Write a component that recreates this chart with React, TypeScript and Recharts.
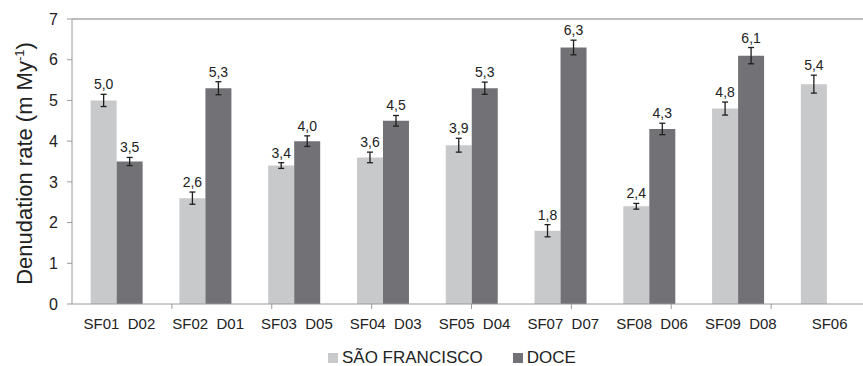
import React from "react";
import {
  BarChart,
  Bar,
  XAxis,
  YAxis,
  ErrorBar,
  LabelList,
  ReferenceLine,
} from "recharts";

// Sample pairs: São Francisco site + Doce site sharing one category slot
const groups = [
  "SF01\u00a0\u00a0D02",
  "SF02\u00a0\u00a0D01",
  "SF03\u00a0\u00a0D05",
  "SF04\u00a0\u00a0D03",
  "SF05\u00a0\u00a0D04",
  "SF07\u00a0\u00a0D07",
  "SF08\u00a0\u00a0D06",
  "SF09\u00a0\u00a0D08",
  "SF06",
];

// Denudation rates (m My-1) and their uncertainties
const saoFrancisco = [5.0, 2.6, 3.4, 3.6, 3.9, 1.8, 2.4, 4.8, 5.4];
const saoFranciscoError = [0.15, 0.15, 0.07, 0.13, 0.17, 0.15, 0.07, 0.16, 0.22];
const doce: (number | null)[] = [3.5, 5.3, 4.0, 4.5, 5.3, 6.3, 4.3, 6.1, null];
const doceError: (number | null)[] = [0.1, 0.16, 0.13, 0.13, 0.15, 0.18, 0.14, 0.2, null];

const yTicks = [0, 1, 2, 3, 4, 5, 6, 7];
const groupBoundaries = [1, 2, 3, 4, 5, 6, 7, 8];

const data = groups.map((g, i) => ({
  group: g,
  sf: saoFrancisco[i],
  sfErr: saoFranciscoError[i],
  doce: doce[i],
  doceErr: doceError[i],
}));

const FONT = "'Liberation Sans', Arial, Helvetica, sans-serif";
const SF_COLOR = "#c8c9cb";
const DOCE_COLOR = "#727276";
const AXIS_COLOR = "#9a9a9a";
const TEXT_COLOR = "#222222";

const fmt = (v: number) => v.toFixed(1).replace(".", ",");

// Value label sitting just above the top whisker of each bar
const makeValueLabel = (errors: (number | null)[]) => (props: any) => {
  const { x, y, width, height, value, index } = props;
  if (value == null || errors[index] == null) return null;
  const v = Number(value);
  const h = Number(height);
  const errPx = ((errors[index] as number) * h) / v;
  return (
    <text
      x={Number(x) + Number(width) / 2}
      y={Number(y) - errPx - 5}
      textAnchor="middle"
      fontSize={14}
      fontFamily={FONT}
      fill={TEXT_COLOR}
    >
      {fmt(v)}
    </text>
  );
};

const YLabel = (props: any) => {
  const vb = props.viewBox || {};
  const cx = (vb.x || 0) + 32;
  const cy = (vb.y || 0) + (vb.height || 0) / 2 + 2;
  return (
    <text
      transform={`translate(${cx}, ${cy}) rotate(-90)`}
      textAnchor="middle"
      fontSize={22}
      fontFamily={FONT}
      fill={TEXT_COLOR}
    >
      <tspan>Denudation rate (m My</tspan>
      <tspan fontSize={13} dy={-8}>
        -1
      </tspan>
      <tspan dy={8}>)</tspan>
    </text>
  );
};

const LegendSwatch = ({ color, label }: { color: string; label: string }) => (
  <div style={{ display: "flex", alignItems: "center", marginRight: 30 }}>
    <span
      style={{
        display: "inline-block",
        width: 10,
        height: 10,
        background: color,
        marginRight: 4,
      }}
    />
    <span style={{ fontSize: 17, lineHeight: "17px", color: TEXT_COLOR }}>{label}</span>
  </div>
);

export default function App() {
  return (
    <div
      style={{
        position: "absolute",
        left: 0,
        top: 0,
        width: 863,
        height: 366,
        overflow: "hidden",
        background: "#ffffff",
        fontFamily: FONT,
      }}
    >
      <BarChart
        width={880}
        height={366}
        data={data}
        margin={{ top: 19, right: 9, left: 0, bottom: 31 }}
        barCategoryGap="21%"
        barGap={0}
      >
        <XAxis
          xAxisId="b"
          dataKey="group"
          interval={0}
          tickLine={false}
          axisLine={false}
          tickSize={5}
          tickMargin={8}
          height={30}
          tick={{ fontSize: 15, fill: TEXT_COLOR, fontFamily: FONT, dx: 3 }}
        />
        {/* baseline with short tick marks between sample pairs */}
        <XAxis
          xAxisId="a"
          type="number"
          domain={[0, groups.length]}
          allowDataOverflow
          ticks={groupBoundaries}
          interval={0}
          tickFormatter={() => ""}
          axisLine={{ stroke: AXIS_COLOR }}
          tickLine={{ stroke: AXIS_COLOR }}
          tickSize={5}
          height={1}
        />
        <YAxis
          domain={[0, 7]}
          ticks={yTicks}
          interval={0}
          width={72}
          axisLine={{ stroke: AXIS_COLOR }}
          tickLine={{ stroke: AXIS_COLOR }}
          tickSize={5}
          tickMargin={9}
          tick={{ fontSize: 16, fill: TEXT_COLOR, fontFamily: FONT }}
          label={<YLabel />}
        />
        <ReferenceLine
          xAxisId="b"
          y={7}
          stroke="#bdbdbd"
          strokeWidth={2}
          ifOverflow="extendDomain"
        />
        <Bar xAxisId="b" dataKey="sf" name="SÃO FRANCISCO" fill={SF_COLOR} isAnimationActive={false}>
          <ErrorBar
            dataKey="sfErr"
            direction="y"
            width={3}
            stroke="#1e1e1e"
            strokeWidth={1.3}
            isAnimationActive={false}
          />
          <LabelList dataKey="sf" content={makeValueLabel(saoFranciscoError)} />
        </Bar>
        <Bar xAxisId="b" dataKey="doce" name="DOCE" fill={DOCE_COLOR} isAnimationActive={false}>
          <ErrorBar
            dataKey="doceErr"
            direction="y"
            width={3}
            stroke="#1e1e1e"
            strokeWidth={1.3}
            isAnimationActive={false}
          />
          <LabelList dataKey="doce" content={makeValueLabel(doceError)} />
        </Bar>
      </BarChart>
      <div
        style={{
          position: "absolute",
          left: 328,
          top: 349,
          display: "flex",
          alignItems: "center",
        }}
      >
        <LegendSwatch color={SF_COLOR} label="SÃO FRANCISCO" />
        <LegendSwatch color={DOCE_COLOR} label="DOCE" />
      </div>
    </div>
  );
}
